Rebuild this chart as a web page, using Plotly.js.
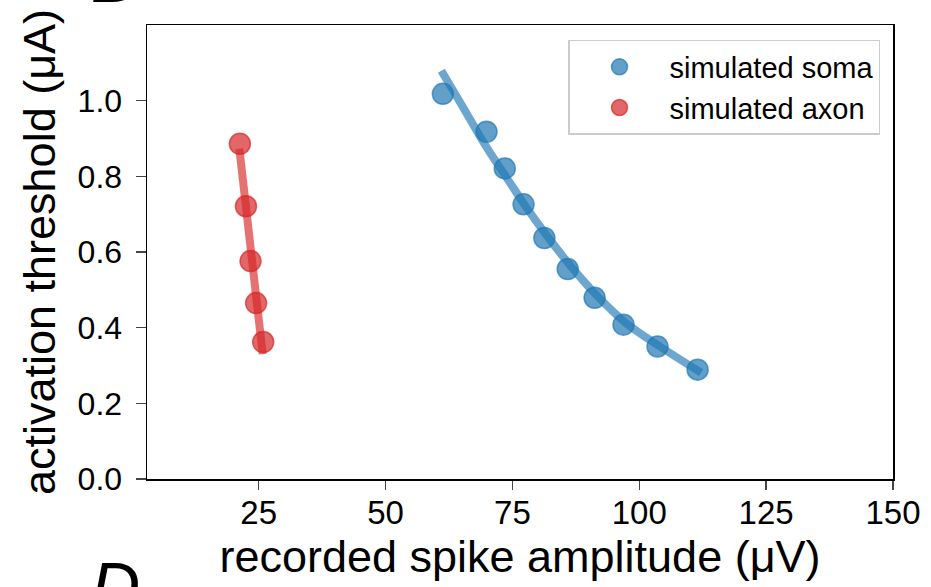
<!DOCTYPE html>
<html>
<head>
<meta charset="utf-8">
<script src="https://cdn.plot.ly/plotly-3.0.1.min.js"></script>
<style>html,body{margin:0;padding:0;background:#fff;}</style>
</head>
<body>
<div id="chart" style="width:931px;height:587px;"></div>
<script>
// Data
var somaX = [61.3, 69.9, 73.5, 77.2, 81.3, 85.9, 91.2, 96.9, 103.6, 111.5];
var somaY = [1.018, 0.918, 0.821, 0.726, 0.637, 0.555, 0.479, 0.408, 0.350, 0.289];
var somaFitX = [61.0, 65.3, 69.9, 73.8, 77.7, 81.7, 86.3, 91.5, 97.4, 104.0, 112.2];
var somaFitY = [1.079, 0.982, 0.877, 0.798, 0.719, 0.645, 0.566, 0.487, 0.412, 0.351, 0.281];
var axonX = [21.3, 22.5, 23.4, 24.5, 25.9];
var axonY = [0.886, 0.721, 0.576, 0.465, 0.362];
var axonFitX = [21.2, 22.6, 23.6, 24.6, 25.8];
var axonFitY = [0.873, 0.720, 0.580, 0.460, 0.330];
var xTicks = [25, 50, 75, 100, 125, 150];
var yTicks = [0.0, 0.2, 0.4, 0.6, 0.8, 1.0];
var yTickText = ["0.0", "0.2", "0.4", "0.6", "0.8", "1.0"];

var blue = "31,119,180", red = "214,39,40";
var traces = [
  {x: somaFitX, y: somaFitY, mode: "lines", line: {color: "rgba(" + blue + ",0.65)", width: 8, shape: "spline"}, showlegend: false, hoverinfo: "skip"},
  {x: axonFitX, y: axonFitY, mode: "lines", line: {color: "rgba(" + red + ",0.65)", width: 8}, showlegend: false, hoverinfo: "skip"},
  {x: somaX, y: somaY, mode: "markers", name: "simulated soma", legendgroup: "a",
   marker: {size: 21, color: "rgba(" + blue + ",0.7)", line: {color: "rgba(" + blue + ",0.7)", width: 1.5}}},
  {x: axonX, y: axonY, mode: "markers", name: "simulated axon", legendgroup: "b",
   marker: {size: 21, color: "rgba(" + red + ",0.7)", line: {color: "rgba(" + red + ",0.7)", width: 1.5}}}
];

var font = "Liberation Sans, Arial, sans-serif";
var layout = {
  width: 931, height: 587,
  margin: {l: 147, r: 38, t: 25, b: 108},
  paper_bgcolor: "#fff", plot_bgcolor: "#fff",
  font: {family: font, color: "#000", size: 30},
  showlegend: true,
  xaxis: {
    range: [3, 150], tickvals: xTicks, ticks: "outside", ticklen: 9, tickwidth: 1.5,
    showline: true, linecolor: "#000", linewidth: 1.5, mirror: true, showgrid: false, zeroline: false,
    tickfont: {size: 33, family: font}, automargin: false, ticklabelstandoff: -5,
    title: {text: "recorded spike amplitude (μV)", font: {size: 45, family: font}, standoff: 10}
  },
  yaxis: {
    range: [0, 1.2], tickvals: yTicks, ticktext: yTickText, ticks: "outside", ticklen: 10, tickwidth: 1.5,
    showline: true, linecolor: "#000", linewidth: 1.5, mirror: true, showgrid: false, zeroline: false,
    tickfont: {size: 32, family: font}, automargin: false, ticklabelstandoff: 7,
    title: {text: "activation threshold (μA)", font: {size: 45, family: font}, standoff: 8}
  },
  legend: {
    x: 0.9826, xanchor: "right", y: 0.967, yanchor: "top",
    bgcolor: "rgba(255,255,255,0.8)", bordercolor: "#cccccc", borderwidth: 1.5,
    font: {size: 29, family: font}, tracegroupgap: 0, traceorder: "grouped", itemwidth: 90
  },
  annotations: [
    {text: "<i>B</i>", xref: "paper", yref: "paper", x: -0.078, y: 1.015, xanchor: "left", yanchor: "bottom", showarrow: false,
     font: {size: 68, family: font, color: "#000"}},
    {text: "<i>D</i>", xref: "paper", yref: "paper", x: -0.078, y: -0.147, xanchor: "left", yanchor: "top", showarrow: false,
     font: {size: 68, family: font, color: "#000"}}
  ]
};
Plotly.newPlot("chart", traces, layout, {displayModeBar: false, staticPlot: true});
</script>
</body>
</html>
